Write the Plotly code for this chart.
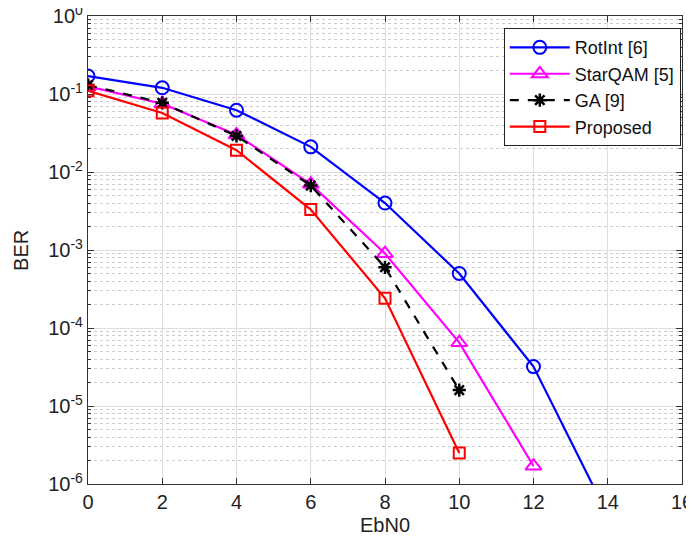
import plotly.graph_objects as go

ebn0 = [0, 2, 4, 6, 8, 10, 12, 14]
rotint = [0.17, 0.12, 0.062, 0.021, 0.004, 5.0e-4, 3.2e-5, 4.0e-7]
ebn0_star = [0, 2, 4, 6, 8, 10, 12]
starqam = [0.125, 0.075, 0.030, 0.0070, 9.0e-4, 6.5e-5, 1.7e-6]
ebn0_ga = [0, 2, 4, 6, 8, 10]
ga = [0.13, 0.077, 0.029, 0.0067, 6.0e-4, 1.6e-5]
ebn0_prop = [0, 2, 4, 6, 8, 10]
proposed = [0.11, 0.057, 0.019, 0.0033, 2.4e-4, 2.5e-6]

xticks = [0, 2, 4, 6, 8, 10, 12, 14, 16]
yexp = [0, -1, -2, -3, -4, -5, -6]
yticks = [10.0 ** e for e in yexp]
ytext = ["10<sup>%d</sup>" % e for e in yexp]
yminor = [m * 10.0 ** e for e in range(-6, 0) for m in range(2, 10)]

FONT = "Liberation Sans, Arial, sans-serif"

fig = go.Figure()
fig.add_trace(go.Scatter(x=ebn0, y=rotint, name="RotInt [6]", mode="lines+markers",
                         line=dict(color="#0000FF", width=2.2),
                         marker=dict(symbol="circle-open", size=13, color="#0000FF",
                                     line=dict(width=2, color="#0000FF"))))
fig.add_trace(go.Scatter(x=ebn0_star, y=starqam, name="StarQAM [5]", mode="lines+markers",
                         line=dict(color="#FF00FF", width=2.2),
                         marker=dict(symbol="triangle-up-open", size=14, color="#FF00FF",
                                     line=dict(width=2, color="#FF00FF"))))
fig.add_trace(go.Scatter(x=ebn0_ga, y=ga, name="GA [9]", mode="lines+markers",
                         line=dict(color="#000000", width=2.2, dash="dash"),
                         marker=dict(symbol="asterisk-open", size=11, color="#000000",
                                     line=dict(width=2.5, color="#000000"))))
fig.add_trace(go.Scatter(x=ebn0_prop, y=proposed, name="Proposed", mode="lines+markers",
                         line=dict(color="#FF0000", width=2.2),
                         marker=dict(symbol="square-open", size=11, color="#FF0000",
                                     line=dict(width=2, color="#FF0000"))))

fig.update_layout(
    width=686, height=534,
    margin=dict(l=80, r=12, t=8, b=58),
    paper_bgcolor="white", plot_bgcolor="white",
    font=dict(family=FONT, size=20, color="#222222"),
    legend=dict(x=0.700, y=0.974, xanchor="left", yanchor="top",
                bgcolor="white", bordercolor="#222222", borderwidth=1,
                font=dict(family=FONT, size=18, color="#111111"),
                tracegroupgap=0, itemwidth=60),
    showlegend=True,
    annotations=[
        dict(text="EbN0", xref="paper", yref="paper", x=0.5, y=-0.088,
             xanchor="center", yanchor="middle", showarrow=False,
             font=dict(family=FONT, size=20, color="#222222")),
        dict(text="BER", xref="paper", yref="paper", x=-0.113, y=0.5,
             xanchor="center", yanchor="middle", showarrow=False, textangle=-90,
             font=dict(family=FONT, size=20, color="#222222")),
    ],
)
fig.update_xaxes(
    range=[0, 16], tickvals=xticks, ticks="inside", ticklen=6, tickcolor="#333333",
    showline=True, linecolor="#333333", linewidth=1.2, mirror="ticks",
    showgrid=True, gridcolor="#DDDDDD", gridwidth=1, zeroline=False,
    tickfont=dict(size=20, color="#222222"), automargin=False,
    ticklabeloverflow="allow",
)
fig.update_yaxes(
    type="log", range=[-6, 0], tickvals=yticks, ticktext=ytext,
    ticks="inside", ticklen=6, tickcolor="#333333",
    showline=True, linecolor="#333333", linewidth=1.2, mirror="ticks",
    showgrid=True, gridcolor="#DDDDDD", gridwidth=1, zeroline=False,
    tickfont=dict(size=20, color="#222222"), automargin=False,
    ticklabeloverflow="allow",
    minor=dict(tickvals=yminor, ticks="inside", ticklen=3, tickcolor="#333333",
               showgrid=True, gridcolor="#CCCCCC", griddash="dot", gridwidth=1),
)

fig.write_html("out.html")
